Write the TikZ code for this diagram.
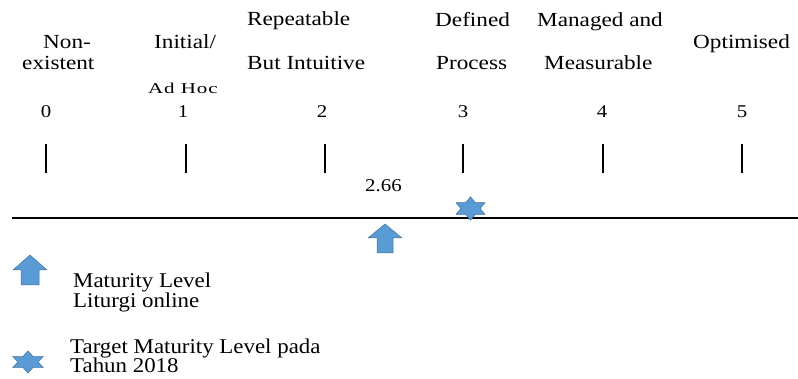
\documentclass[tikz,border=0pt]{standalone}
\usepackage{fontspec}
\setmainfont{Liberation Serif}
\newfontfamily\lblfont[FakeStretch=1.16]{Liberation Serif}
\newfontfamily\keyfont[FakeStretch=1.09]{Liberation Serif}
\newfontfamily\adfont[FakeStretch=1.4,LetterSpace=6]{Liberation Serif}
\definecolor{markblue}{HTML}{5B9BD5}
\definecolor{markedge}{HTML}{41719C}
\tikzset{
  lvl/.style={inner sep=0pt, anchor=base west, font=\lblfont\fontsize{20}{24}\selectfont},
  num/.style={inner sep=0pt, anchor=base, font=\lblfont\fontsize{18}{22}\selectfont},
  key/.style={inner sep=0pt, anchor=base west, font=\keyfont\fontsize{21}{25}\selectfont},
  tick/.style={line width=1.1pt},
  axis/.style={line width=1.2pt},
  marker/.style={fill=markblue, draw=markedge, line width=0.5pt, line join=miter},
}
\begin{document}
\begin{tikzpicture}[x=1pt, y=-1pt]
\useasboundingbox (0,0) rectangle (798,379);

% level names
\node[lvl] (n0a) at (43,49) {Non-};
\node[lvl] (n0b) at (22,70) {existent};
\node[lvl] (n1a) at (154,49) {Initial/};
\node[inner sep=0pt, anchor=base west, font=\adfont\fontsize{15}{18}\selectfont] (n1b) at (148,94) {Ad Hoc};
\node[lvl] (n2a) at (247,26) {Repeatable};
\node[lvl] (n2b) at (247,70) {But Intuitive};
\node[lvl] (n3a) at (435,27) {Defined};
\node[lvl] (n3b) at (436,70) {Process};
\node[lvl] (n4a) at (537,27) {Managed and};
\node[lvl] (n4b) at (544,70) {Measurable};
\node[lvl] (n5a) at (693,49) {Optimised};

% level numbers
\node[num] (d0) at (46,118) {0};
\node[num] (d1) at (183,118) {1};
\node[num] (d2) at (322,118) {2};
\node[num] (d3) at (463,118) {3};
\node[num] (d4) at (602,118) {4};
\node[num] (d5) at (742,118) {5};

% tick marks
\foreach \x in {46,186,325,463,603,742}
  \draw[tick] (\x,144) -- (\x,173);

% scale line
\coordinate (axL) at (12,218);
\coordinate (axR) at (798,218);
\draw[axis] (axL) -- (axR);

% current level value
\node[num, anchor=base west] (val) at (365,192) {2.66};

% current level arrow
\filldraw[marker] (385,224) -- (402,238) -- (393,238) -- (393,253)
  -- (377,253) -- (377,238) -- (368,238) -- cycle;

% target level star
\begin{scope}[shift={(470.5,208.5)}, x=16.7pt, y=11.7pt]
  \filldraw[marker] (90:1) -- (120:0.577) -- (150:1) -- (180:0.577)
    -- (210:1) -- (240:0.577) -- (270:1) -- (300:0.577) -- (330:1)
    -- (0:0.577) -- (30:1) -- (60:0.577) -- cycle;
\end{scope}

% legend
\filldraw[marker] (30,255) -- (47,270) -- (39,270) -- (39,285)
  -- (21,285) -- (21,270) -- (13,270) -- cycle;
\node[key] (k1a) at (73,288) {Maturity Level};
\node[key] (k1b) at (73,308) {Liturgi online};

\begin{scope}[shift={(28,362)}, x=17.5pt, y=11pt]
  \filldraw[marker] (90:1) -- (120:0.577) -- (150:1) -- (180:0.577)
    -- (210:1) -- (240:0.577) -- (270:1) -- (300:0.577) -- (330:1)
    -- (0:0.577) -- (30:1) -- (60:0.577) -- cycle;
\end{scope}
\node[key] (k2a) at (70,353) {Target Maturity Level pada};
\node[key] (k2b) at (70,373) {Tahun 2018};
\end{tikzpicture}
\end{document}
